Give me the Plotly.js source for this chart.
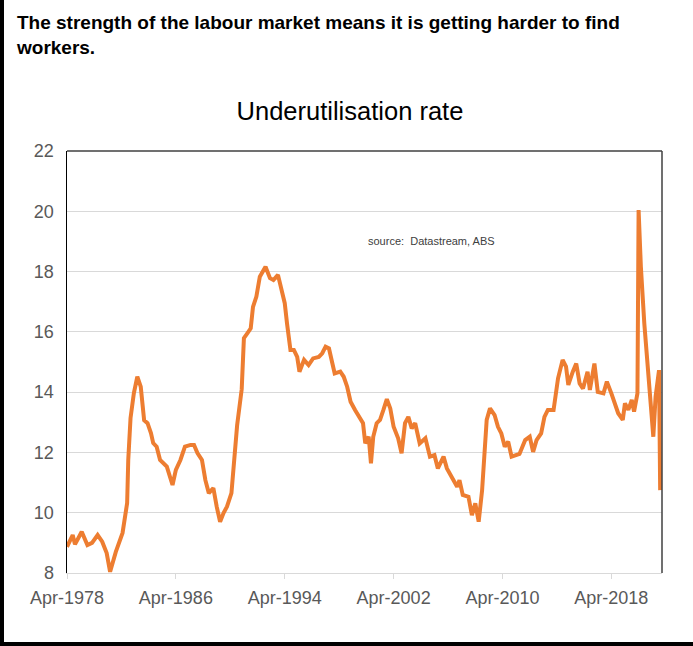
<!DOCTYPE html>
<html>
<head>
<meta charset="utf-8">
<script src="https://cdn.plot.ly/plotly-3.0.1.min.js"></script>
<style>
html,body{margin:0;padding:0;background:#fff;}
#chart{width:693px;height:646px;}
#frame{position:absolute;left:0;top:0;width:693px;height:646px;box-sizing:border-box;border-left:4px solid #000;border-bottom:4px solid #000;pointer-events:none;}
</style>
</head>
<body>
<div id="chart"></div>
<div id="frame"></div>
<script>
const headerText = "The strength of the labour market means it is getting harder to find<br>workers.";
const chartTitle = "Underutilisation rate";
const sourceText = "source:  Datastream, ABS";
const tickDates = ["1978-04-01","1986-04-01","1994-04-01","2002-04-01","2010-04-01","2018-04-01"];
const tickLabels = ["Apr-1978","Apr-1986","Apr-1994","Apr-2002","Apr-2010","Apr-2018"];

const months = ["1978-04","1978-09","1978-11","1979-05","1979-10","1980-02","1980-07","1980-11","1981-03","1981-06","1981-11","1982-05","1982-09","1982-10","1982-12","1983-03","1983-06","1983-09","1983-12","1984-03","1984-06","1984-08","1984-11","1985-02","1985-08","1986-01","1986-04","1986-08","1986-12","1987-05","1987-08","1987-11","1988-03","1988-06","1988-09","1989-01","1989-04","1989-07","1989-10","1990-01","1990-05","1990-07","1990-10","1991-02","1991-04","1991-07","1991-10","1991-12","1992-03","1992-06","1992-11","1993-03","1993-06","1993-10","1994-02","1994-04","1994-06","1994-09","1994-12","1995-03","1995-05","1995-09","1996-01","1996-05","1996-10","1997-01","1997-04","1997-07","1997-10","1997-12","1998-05","1998-08","1998-11","1999-02","1999-06","1999-10","2000-01","2000-03","2000-06","2000-08","2000-10","2001-01","2001-04","2001-07","2001-10","2002-01","2002-04","2002-08","2002-11","2003-02","2003-05","2003-08","2003-11","2004-03","2004-08","2004-12","2005-04","2005-07","2005-12","2006-03","2006-07","2006-12","2007-02","2007-05","2007-10","2008-01","2008-04","2008-07","2008-10","2008-12","2009-02","2009-05","2009-09","2009-12","2010-03","2010-06","2010-09","2010-12","2011-04","2011-07","2011-12","2012-04","2012-07","2012-10","2013-02","2013-05","2013-08","2014-01","2014-05","2014-09","2014-12","2015-02","2015-06","2015-09","2015-12","2016-03","2016-07","2016-09","2017-01","2017-04","2017-09","2017-12","2018-04","2018-07","2018-10","2019-02","2019-04","2019-07","2019-10","2019-12","2020-03","2020-04","2020-06","2020-09","2020-12","2021-02","2021-05","2021-07","2021-10","2021-11"];

const underutilisation = [8.87,9.26,8.95,9.37,8.93,9.0,9.26,9.04,8.66,8.04,8.7,9.33,10.32,11.75,13.14,13.97,14.51,14.18,13.07,12.97,12.64,12.31,12.19,11.75,11.53,10.92,11.42,11.75,12.19,12.25,12.25,11.98,11.75,11.08,10.65,10.82,10.20,9.70,9.99,10.20,10.65,11.5,12.9,14.1,15.79,15.95,16.12,16.83,17.17,17.83,18.16,17.78,17.72,17.89,17.28,16.95,16.28,15.40,15.40,15.17,14.68,15.07,14.90,15.12,15.17,15.29,15.51,15.45,14.95,14.62,14.68,14.51,14.18,13.68,13.41,13.13,12.97,12.30,12.52,11.64,12.52,12.97,13.08,13.41,13.77,13.46,12.85,12.47,11.97,12.97,13.18,12.80,12.97,12.30,12.47,11.86,11.91,11.47,11.86,11.47,11.19,10.86,11.08,10.59,10.53,9.92,10.31,9.70,10.75,11.86,13.08,13.46,13.24,12.85,12.63,12.19,12.36,11.86,11.91,11.95,12.41,12.52,12.02,12.41,12.63,13.18,13.41,13.41,14.46,15.07,14.85,14.24,14.68,14.95,14.29,14.12,14.68,14.07,14.95,14.01,13.96,14.35,13.96,13.63,13.30,13.08,13.63,13.41,13.74,13.35,13.96,20.04,18.16,16.28,14.84,13.52,12.52,13.85,14.73,10.75];

const trace = {
  type: "scatter",
  mode: "lines",
  x: months,
  y: underutilisation,
  line: {color: "#ED7D31", width: 4},
  hoverinfo: "x+y"
};

const layout = {
  width: 693,
  height: 646,
  margin: {l: 67, r: 31, t: 151, b: 73},
  paper_bgcolor: "#ffffff",
  plot_bgcolor: "#ffffff",
  showlegend: false,
  font: {family: "Liberation Sans, Arial, sans-serif", color: "#595959"},
  title: {
    text: chartTitle,
    font: {size: 25.5, color: "#000000", family: "Liberation Sans, Arial, sans-serif"},
    x: 0.505, xanchor: "center",
    y: 0.828, yanchor: "middle"
  },
  xaxis: {
    type: "date",
    range: ["1978-04-01", "2021-12-20"],
    tickvals: tickDates,
    ticktext: tickLabels,
    showgrid: false,
    showline: true,
    linecolor: "#d9d9d9",
    linewidth: 1,
    ticks: "outside",
    ticklen: 5,
    tickcolor: "#d9d9d9",
    ticklabelstandoff: 3,
    tickfont: {size: 18, color: "#595959"},
    zeroline: false
  },
  yaxis: {
    range: [8, 22],
    tickvals: [8,10,12,14,16,18,20,22],
    showgrid: true,
    gridcolor: "#d9d9d9",
    gridwidth: 1,
    showline: true,
    linecolor: "#000000",
    linewidth: 1.5,
    ticks: "",
    ticklabelstandoff: 8,
    tickfont: {size: 18, color: "#595959"},
    zeroline: false
  },
  shapes: [
    {type: "line", xref: "paper", yref: "paper", x0: 0, x1: 1, y0: 1, y1: 1, line: {color: "#404040", width: 1.5}},
    {type: "line", xref: "paper", yref: "paper", x0: 1, x1: 1, y0: 0, y1: 1, line: {color: "#404040", width: 1.5}}
  ],
  annotations: [
    {
      text: "<b>" + headerText + "</b>",
      xref: "paper", yref: "paper",
      x: -0.089, y: 1.334,
      xanchor: "left", yanchor: "top",
      align: "left",
      showarrow: false,
      font: {size: 19, color: "#000000", family: "Liberation Sans, Arial, sans-serif"}
    },
    {
      text: sourceText,
      xref: "paper", yref: "paper",
      x: 0.502, y: 0.787,
      xanchor: "left", yanchor: "middle",
      showarrow: false,
      font: {size: 11, color: "#404040", family: "Liberation Sans, Arial, sans-serif"}
    }
  ]
};

Plotly.newPlot("chart", [trace], layout, {displayModeBar: false, staticPlot: true});
</script>
</body>
</html>
